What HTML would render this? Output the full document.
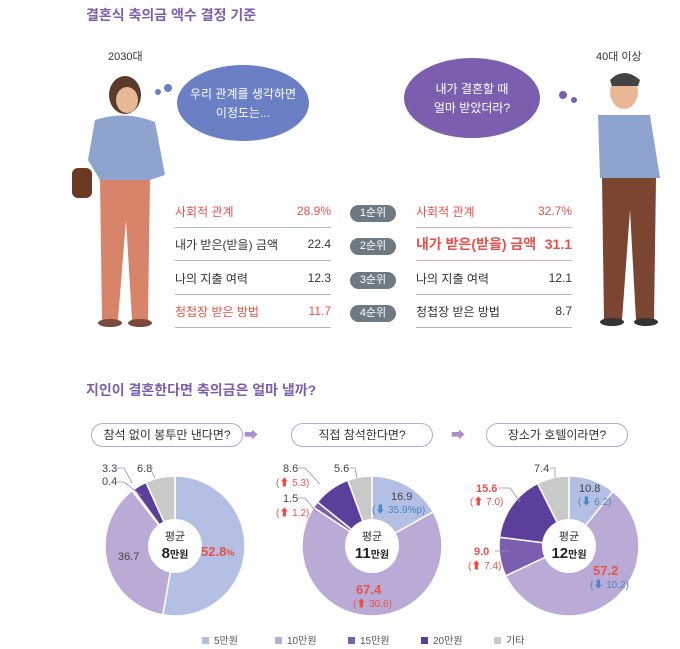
<!DOCTYPE html>
<html><head><meta charset="utf-8">
<style>
body{margin:0;width:680px;height:649px;background:#fff;font-family:"Liberation Sans","Noto Sans CJK KR",sans-serif;position:relative;overflow:hidden}
.a{position:absolute}
.t{color:#7b5fae;font-weight:bold;font-size:14px}
.row{position:absolute;width:156px;height:33px;font-size:12px;color:#333;border-bottom:1.5px solid #a9b6e0;box-sizing:border-box;display:flex;justify-content:space-between;align-items:center}
.row.r{border-color:#c9a9dc}
.red{color:#e8504a}
.badge{position:absolute;left:350px;width:46px;height:17px;border-radius:9px;background:#6e7a83;color:#fff;font-size:11px;text-align:center;line-height:17px}
.q{position:absolute;top:423px;height:22px;border:1.2px solid #b9a5d6;border-radius:12px;font-size:12px;color:#333;text-align:center;line-height:22px}
</style></head><body>
<div class="a t" style="left:86px;top:5px">결혼식 축의금 액수 결정 기준</div>
<div class="a" style="left:108px;top:48px;font-size:11px;color:#333">2030대</div>
<div class="a" style="left:596px;top:48px;font-size:11px;color:#333">40대 이상</div>

<svg class="a" style="left:0;top:0" width="680" height="340">
 <ellipse cx="125" cy="95" rx="16" ry="19" fill="#5a3a2a"/>
 <ellipse cx="127" cy="100" rx="11" ry="13" fill="#e8b896"/>
 <path d="M95 120 Q125 110 155 122 L165 175 L150 180 L100 180 L88 160 Z" fill="#8fa3cf"/>
 <path d="M100 180 L150 180 L148 320 L132 320 L126 220 L118 320 L102 320 Z" fill="#d8846a"/>
 <rect x="72" y="168" width="20" height="30" rx="6" fill="#6b3a22"/>
 <ellipse cx="110" cy="323" rx="12" ry="4" fill="#7a4a3a"/><ellipse cx="140" cy="323" rx="12" ry="4" fill="#7a4a3a"/>
 <circle cx="158" cy="92" r="3" fill="#6a7fc4"/><circle cx="168" cy="88" r="4" fill="#6a7fc4"/>
 <ellipse cx="243" cy="103" rx="66" ry="38" fill="#6a7fc4"/>
 <ellipse cx="624" cy="92" rx="14" ry="17" fill="#e8b896"/>
 <path d="M610 80 Q624 66 640 80 L638 86 L612 86 Z" fill="#444"/>
 <path d="M598 115 L650 115 L660 178 L600 178 Z" fill="#8fa3cf"/>
 <path d="M602 178 L656 178 L654 320 L636 320 L630 210 L622 320 L604 320 Z" fill="#7a4632"/>
 <ellipse cx="612" cy="322" rx="12" ry="4" fill="#333"/><ellipse cx="646" cy="322" rx="12" ry="4" fill="#333"/>
 <circle cx="574" cy="100" r="3" fill="#7b5fae"/><circle cx="563" cy="95" r="4" fill="#7b5fae"/>
 <ellipse cx="472" cy="98" rx="68" ry="40" fill="#7b5fae"/>
</svg>
<div class="a" style="left:180px;top:85px;width:126px;text-align:center;color:#fff;font-size:12px;line-height:19px">우리 관계를 생각하면<br>이정도는...</div>
<div class="a" style="left:408px;top:80px;width:128px;text-align:center;color:#fff;font-size:12px;line-height:19px">내가 결혼할 때<br>얼마 받았더라?</div>

<div class="row red" style="left:175px;top:195px"><span>사회적 관계</span><span>28.9%</span></div>
<div class="row" style="left:175px;top:228px"><span>내가 받은(받을) 금액</span><span>22.4</span></div>
<div class="row" style="left:175px;top:262px"><span>나의 지출 여력</span><span>12.3</span></div>
<div class="row red" style="left:175px;top:295px"><span>청첩장 받은 방법</span><span>11.7</span></div>
<div class="badge" style="top:205px">1순위</div>
<div class="badge" style="top:238px">2순위</div>
<div class="badge" style="top:272px">3순위</div>
<div class="badge" style="top:305px">4순위</div>
<div class="row r red" style="left:416px;top:195px"><span>사회적 관계</span><span>32.7%</span></div>
<div class="row r red" style="left:416px;top:228px;font-size:14px;font-weight:bold"><span>내가 받은(받을) 금액</span><span>31.1</span></div>
<div class="row r" style="left:416px;top:262px"><span>나의 지출 여력</span><span>12.1</span></div>
<div class="row r" style="left:416px;top:295px"><span>청첩장 받은 방법</span><span>8.7</span></div>

<div class="a t" style="left:86px;top:380px">지인이 결혼한다면 축의금은 얼마 낼까?</div>
<div class="q" style="left:91px;width:150px">참석 없이 봉투만 낸다면?</div>
<div class="q" style="left:291px;width:140px">직접 참석한다면?</div>
<div class="q" style="left:486px;width:140px">장소가 호텔이라면?</div>
<div class="a" style="left:244px;top:425px;color:#a98fcc;font-size:14px">➡</div>
<div class="a" style="left:451px;top:425px;color:#a98fcc;font-size:14px">➡</div>

<svg class="a" id="pies" style="left:0;top:0" width="680" height="649"></svg>
<script>
const categories=["5만원","10만원","15만원","20만원","기타"];
const pie1Values=[52.8,36.7,0.4,3.3,6.8];
const pie2Values=[16.9,67.4,1.5,8.6,5.6];
const pie3Values=[10.8,57.2,9.0,15.6,7.4];
const averages=["8","11","12"];
const colors=["#b3bfe3","#b9abd6","#7b5fae","#5b3f9a","#c9c9c9"];
const NS="http://www.w3.org/2000/svg";
const svg=document.getElementById('pies');
function mk(t,a){const e=document.createElementNS(NS,t);for(const k in a)e.setAttribute(k,a[k]);svg.appendChild(e);return e;}
function pt(cx,cy,r,f){const a=f*2*Math.PI-Math.PI/2;return [cx+r*Math.cos(a),cy+r*Math.sin(a)];}
function pie(cx,vals,avg,idx){
 const cy=546,r=70;const tot=vals.reduce((a,b)=>a+b,0);let acc=0;
 vals.forEach((v,i)=>{const f0=acc/tot,f1=(acc+v)/tot;acc+=v;
  const [x0,y0]=pt(cx,cy,r,f0),[x1,y1]=pt(cx,cy,r,f1);
  const p=mk('path',{d:`M${cx} ${cy}L${x0} ${y0}A${r} ${r} 0 ${f1-f0>0.5?1:0} 1 ${x1} ${y1}Z`,fill:colors[i],stroke:'#fff','stroke-width':1.5});
  
  
 });
 mk('circle',{cx:cx,cy:cy,r:27,fill:'#fff'});
 const t1=mk('text',{x:cx,y:cy-6,'text-anchor':'middle','font-size':11,fill:'#333'});t1.textContent='평균';
 const t2=mk('text',{x:cx,y:cy+12,'text-anchor':'middle','font-size':15,'font-weight':'bold',fill:'#222'});
 t2.innerHTML=avg+'<tspan font-size="10">만원</tspan>';
}
pie(175,pie1Values,averages[0],1);
pie(372,pie2Values,averages[1],2);
pie(569,pie3Values,averages[2],3);
function f(v){return Number(v).toFixed(1);}
function lab(x,y,s,o){const t=mk('text',Object.assign({x:x,y:y,'font-size':11,fill:'#444'},o||{}));t.textContent=s;return t;}
function ln(pts){mk('polyline',{points:pts,fill:'none',stroke:'#9a8cc4','stroke-width':0.8});}
lab(102,472,f(pie1Values[3]));ln("117,468 124,468 132,483");
lab(102,485,f(pie1Values[2]));ln("117,482 124,482 142,496");
lab(137,472,f(pie1Values[4]));ln("153,468 150,468 155,478");
const pc=lab(201,556,f(pie1Values[0]),{'font-size':13,'font-weight':'bold',fill:'#e8504a'});
pc.innerHTML=f(pie1Values[0])+'<tspan font-size="9">%</tspan>';
lab(118,560,f(pie1Values[1]));
lab(283,472,f(pie2Values[3]));ln("298,468 305,468 320,484");
lab(276,486,'(⬆ 5.3)',{'font-size':10,fill:'#e8504a'});
lab(283,502,f(pie2Values[2]));ln("298,498 305,498 318,514");
lab(276,516,'(⬆ 1.2)',{'font-size':10,fill:'#e8504a'});
lab(334,472,f(pie2Values[4]));ln("350,468 355,468 357,478");
lab(391,500,f(pie2Values[0]));
lab(372,513,'(⬇ 35.9%p)',{'font-size':10,fill:'#4a86c8'});
lab(356,594,f(pie2Values[1]),{'font-size':13,'font-weight':'bold',fill:'#e8504a'});
lab(353,607,'(⬆ 30.6)',{'font-size':10,fill:'#e8504a'});
lab(476,492,f(pie3Values[3]),{'font-weight':'bold',fill:'#e8504a'});ln("498,488 510,488 520,502");
lab(470,505,'(⬆ 7.0)',{'font-size':10,fill:'#e8504a'});
lab(474,555,f(pie3Values[2]),{'font-weight':'bold',fill:'#e8504a'});ln("495,551 510,551");
lab(468,569,'(⬆ 7.4)',{'font-size':10,fill:'#e8504a'});
lab(534,472,f(pie3Values[4]));ln("550,468 555,468 555,478");
lab(579,492,f(pie3Values[0]));
lab(578,505,'(⬇ 6.2)',{'font-size':10,fill:'#4a86c8'});
lab(593,575,f(pie3Values[1]),{'font-size':13,'font-weight':'bold',fill:'#e8504a'});
lab(590,588,'(⬇ 10.2)',{'font-size':10,fill:'#4a86c8'});
const lx=[202,275,348,421,494];
categories.forEach((c,i)=>{
 const r=mk('rect',{x:lx[i],y:637,width:7,height:7,fill:colors[i]});
 
 
 lab(lx[i]+12,644,c,{'font-size':10,fill:'#555'});
});
</script>
</body></html>
